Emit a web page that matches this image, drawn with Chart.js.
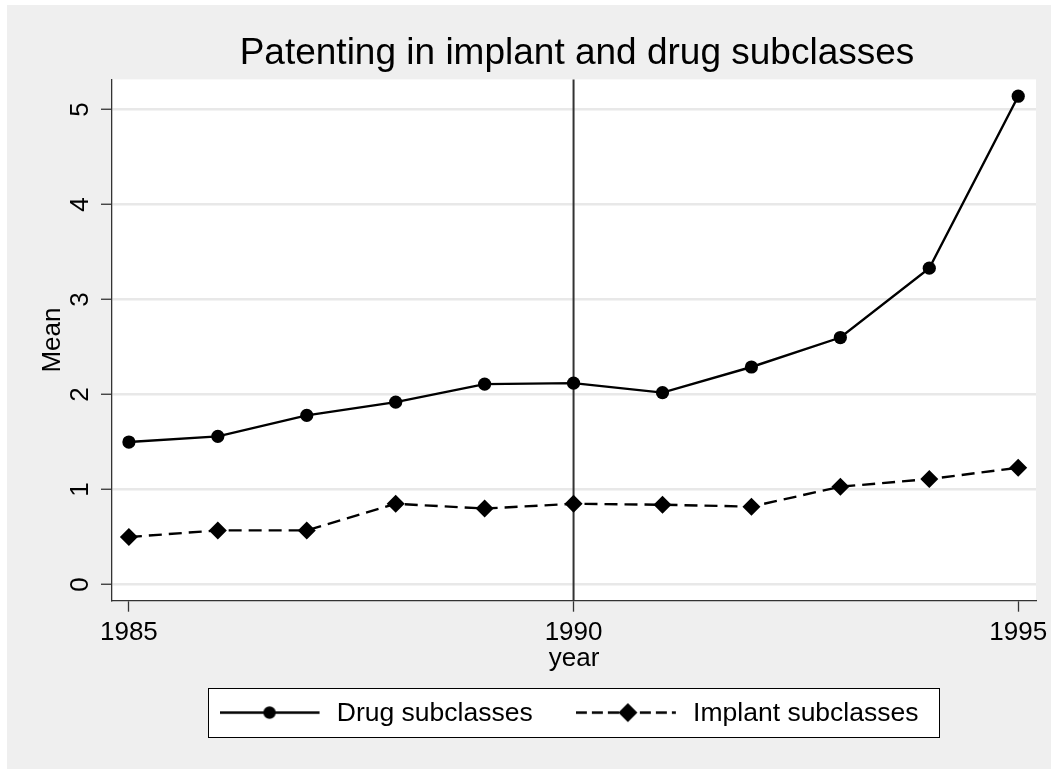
<!DOCTYPE html>
<html>
<head>
<meta charset="utf-8">
<script src="https://cdn.jsdelivr.net/npm/chart.js@4/dist/chart.umd.min.js"></script>
<style>
html,body{margin:0;padding:0;background:#fff;}
canvas{display:block;}
</style>
</head>
<body>
<canvas id="c" width="1051" height="769"></canvas>
<script>
// ---- data ----
const years = [1985, 1986, 1987, 1988, 1989, 1990, 1991, 1992, 1993, 1994, 1995];
const drugMean = [1.50, 1.56, 1.78, 1.92, 2.11, 2.12, 2.02, 2.29, 2.60, 3.33, 5.14];
const implantMean = [0.50, 0.57, 0.57, 0.85, 0.80, 0.85, 0.84, 0.82, 1.03, 1.11, 1.23];
const seriesNames = ['Drug subclasses', 'Implant subclasses'];
const xTickYears = [1985, 1990, 1995];
const yTickValues = [0, 1, 2, 3, 4, 5];
const referenceYear = 1990;
const titleText = 'Patenting in implant and drug subclasses';
const xAxisTitle = 'year';
const yAxisTitle = 'Mean';
const xRange = [1984.81, 1995.2];
const yRange = [-0.17, 5.317];

const FONT = "'Liberation Sans', Arial, Helvetica, sans-serif";
const AXIS_COLOR = '#333333';

function legendSample(kind) {
  const c = document.createElement('canvas');
  c.width = 104; c.height = 26;
  const g = c.getContext('2d');
  const cy = 11.5;
  g.strokeStyle = '#000'; g.fillStyle = '#000'; g.lineWidth = 2.3;
  if (kind === 'circle') {
    g.beginPath(); g.moveTo(0, cy); g.lineTo(100, cy); g.stroke();
    g.beginPath(); g.arc(50, cy, 6.2, 0, Math.PI * 2); g.fill();
  } else {
    g.setLineDash([11, 5]);
    g.beginPath(); g.moveTo(0, cy); g.lineTo(100, cy); g.stroke();
    g.setLineDash([]);
    const cx = 52, r = 9.5;
    g.beginPath(); g.moveTo(cx, cy - r); g.lineTo(cx + r, cy); g.lineTo(cx, cy + r); g.lineTo(cx - r, cy); g.closePath(); g.fill();
  }
  return c;
}
const legendImages = [legendSample('circle'), legendSample('diamond')];

const LEGEND_FONT = 26.5;
const LEGEND_PAD = 43.2;

const stataPlugin = {
  id: 'stataLook',
  afterLayout(chart) {
    const lg = chart.legend;
    if (lg) {
      const h = lg.height;
      lg.left = 102; lg.right = 1036; lg.width = lg.right - lg.left;
      lg.top = 714.1 - LEGEND_PAD - LEGEND_FONT / 2;
      lg.bottom = lg.top + h;
    }
    const tb = chart.titleBlock;
    if (tb) { tb.left = 118; tb.right = 1036; tb.width = tb.right - tb.left; }
  },
  beforeDraw(chart) {
    const {ctx, chartArea: a} = chart;
    ctx.save();
    ctx.fillStyle = '#ffffff';
    ctx.fillRect(0, 0, chart.width, chart.height);
    ctx.fillStyle = '#efefef';
    ctx.fillRect(7, 5, chart.width - 7, chart.height - 5);
    ctx.fillStyle = '#ffffff';
    ctx.fillRect(a.left, a.top, a.right - a.left, a.bottom - a.top);
    const hb = chart.legend && chart.legend.legendHitBoxes;
    if (hb && hb.length) {
      const f = hb[0], l = hb[hb.length - 1];
      const cy = f.top + f.height / 2 - 1.4;
      const x0 = Math.round(f.left - 11.5) + 0.5;
      const x1 = Math.round(l.left + l.width + 20.5) + 0.5;
      const y0 = Math.round(cy - 24.5) + 0.5;
      const y1 = Math.round(cy + 24.5) + 0.5;
      ctx.fillStyle = '#ffffff';
      ctx.fillRect(x0, y0, x1 - x0, y1 - y0);
      ctx.strokeStyle = '#000';
      ctx.lineWidth = 1;
      ctx.strokeRect(x0, y0, x1 - x0, y1 - y0);
    }
    ctx.restore();
  },
  beforeDatasetsDraw(chart) {
    const {ctx, chartArea: a, scales} = chart;
    const x = scales.x.getPixelForValue(referenceYear);
    ctx.save();
    ctx.strokeStyle = '#333333';
    ctx.lineWidth = 2;
    ctx.beginPath();
    ctx.moveTo(x, a.top);
    ctx.lineTo(x, a.bottom);
    ctx.stroke();
    ctx.restore();
  }
};

new Chart(document.getElementById('c'), {
  type: 'line',
  data: {
    datasets: [
      {
        label: seriesNames[0],
        data: years.map((yr, i) => ({x: yr, y: drugMean[i]})),
        borderColor: '#000', backgroundColor: '#000',
        borderWidth: 2.4,
        pointStyle: 'circle', pointRadius: 6.6, pointBorderWidth: 0,
        pointBackgroundColor: '#000',
        tension: 0, fill: false
      },
      {
        label: seriesNames[1],
        data: years.map((yr, i) => ({x: yr, y: implantMean[i]})),
        borderColor: '#000', backgroundColor: '#000',
        borderWidth: 2.4, borderDash: [13, 7],
        pointStyle: 'rectRot', pointRadius: 9, pointBorderWidth: 0,
        pointBackgroundColor: '#000',
        tension: 0, fill: false
      }
    ]
  },
  options: {
    responsive: false,
    animation: false,
    devicePixelRatio: 1,
    layout: {padding: {top: 5, left: 0, right: 15, bottom: 0}},
    plugins: {
      tooltip: {enabled: false},
      title: {
        display: true, text: titleText, color: '#000',
        font: {family: FONT, size: 37, weight: 'normal'},
        padding: {top: 26.7, bottom: 3.3}
      },
      legend: {
        display: true, position: 'bottom',
        labels: {
          usePointStyle: true, pointStyleWidth: 104,
          padding: LEGEND_PAD, color: '#000',
          font: {family: FONT, size: LEGEND_FONT},
          generateLabels(chart) {
            return chart.data.datasets.map((ds, i) => ({
              text: ds.label, pointStyle: legendImages[i], fillStyle: '#000',
              strokeStyle: 'rgba(0,0,0,0)', lineWidth: 0, hidden: false,
              datasetIndex: i, fontColor: '#000'
            }));
          }
        }
      }
    },
    scales: {
      x: {
        type: 'linear', min: xRange[0], max: xRange[1],
        afterBuildTicks(s) { s.ticks = xTickYears.map(v => ({value: v})); },
        afterFit(s) {
          const lh = s.chart.legend ? s.chart.legend.height : 0;
          s.height = 769 - 600.7 - lh;
          s.paddingLeft = 0; s.paddingRight = 0;
        },
        grid: {drawOnChartArea: false, drawTicks: true, tickLength: 11, tickColor: AXIS_COLOR, tickWidth: 1.3},
        border: {display: true, color: AXIS_COLOR, width: 1.3},
        ticks: {
          color: '#000', font: {family: FONT, size: 26}, padding: 5.4,
          maxRotation: 0, minRotation: 0, autoSkip: false,
          callback: v => String(v)
        },
        title: {display: true, text: xAxisTitle, color: '#000', font: {family: FONT, size: 26}, padding: {top: 0, bottom: 14.7}}
      },
      y: {
        type: 'linear', min: yRange[0], max: yRange[1],
        afterBuildTicks(s) { s.ticks = yTickValues.map(v => ({value: v})); },
        afterFit(s) { s.width = 112; s.paddingTop = 0; s.paddingBottom = 0; },
        grid: {drawOnChartArea: true, color: '#e8e8e8', lineWidth: 2.5, drawTicks: true, tickLength: 11, tickColor: AXIS_COLOR, tickWidth: 1.3},
        border: {display: true, color: AXIS_COLOR, width: 1.3},
        ticks: {
          color: '#000', font: {family: FONT, size: 26}, padding: 13.3,
          minRotation: 90, maxRotation: 90, crossAlign: 'center', autoSkip: false,
          callback: v => String(v)
        },
        title: {display: true, text: yAxisTitle, color: '#000', font: {family: FONT, size: 26}, padding: {top: 37.4, bottom: 0}}
      }
    }
  },
  plugins: [stataPlugin]
});
</script>
</body>
</html>
